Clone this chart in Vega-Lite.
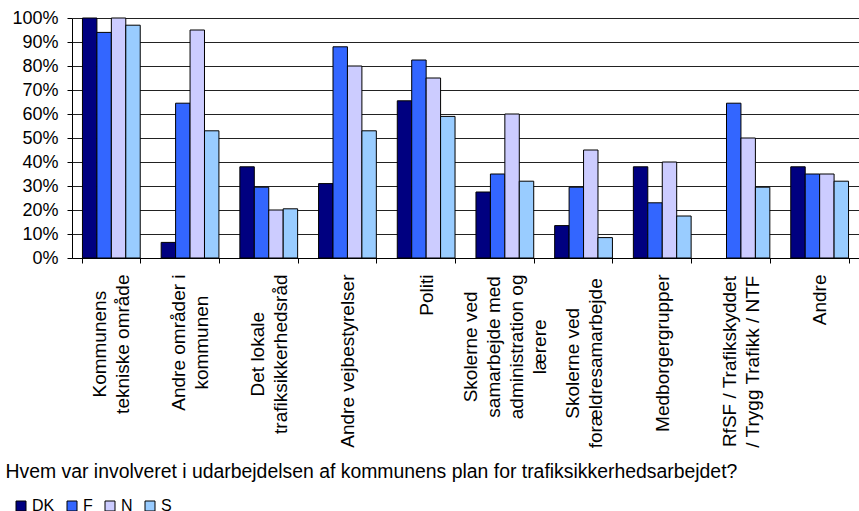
{
  "$schema": "https://vega.github.io/schema/vega-lite/v6.json",
  "autosize": {"type": "none"},
  "padding": {"left": 72, "top": 18, "right": 0, "bottom": 253},
  "width": 787,
  "height": 240,
  "background": "white",
  "config": {
    "view": {"stroke": null},
    "font": "Liberation Sans"
  },
  "data": {
    "values": [
      {"kategori": "Kommunens tekniske område", "land": "DK", "andel": 1.0},
      {"kategori": "Kommunens tekniske område", "land": "F", "andel": 0.94},
      {"kategori": "Kommunens tekniske område", "land": "N", "andel": 1.0},
      {"kategori": "Kommunens tekniske område", "land": "S", "andel": 0.97},
      {"kategori": "Andre områder i kommunen", "land": "DK", "andel": 0.065},
      {"kategori": "Andre områder i kommunen", "land": "F", "andel": 0.645},
      {"kategori": "Andre områder i kommunen", "land": "N", "andel": 0.95},
      {"kategori": "Andre områder i kommunen", "land": "S", "andel": 0.53},
      {"kategori": "Det lokale trafiksikkerhedsråd", "land": "DK", "andel": 0.38},
      {"kategori": "Det lokale trafiksikkerhedsråd", "land": "F", "andel": 0.295},
      {"kategori": "Det lokale trafiksikkerhedsråd", "land": "N", "andel": 0.2},
      {"kategori": "Det lokale trafiksikkerhedsråd", "land": "S", "andel": 0.205},
      {"kategori": "Andre vejbestyrelser", "land": "DK", "andel": 0.31},
      {"kategori": "Andre vejbestyrelser", "land": "F", "andel": 0.88},
      {"kategori": "Andre vejbestyrelser", "land": "N", "andel": 0.8},
      {"kategori": "Andre vejbestyrelser", "land": "S", "andel": 0.53},
      {"kategori": "Politi", "land": "DK", "andel": 0.655},
      {"kategori": "Politi", "land": "F", "andel": 0.825},
      {"kategori": "Politi", "land": "N", "andel": 0.75},
      {"kategori": "Politi", "land": "S", "andel": 0.59},
      {"kategori": "Skolerne ved samarbejde med administration og lærere", "land": "DK", "andel": 0.275},
      {"kategori": "Skolerne ved samarbejde med administration og lærere", "land": "F", "andel": 0.35},
      {"kategori": "Skolerne ved samarbejde med administration og lærere", "land": "N", "andel": 0.6},
      {"kategori": "Skolerne ved samarbejde med administration og lærere", "land": "S", "andel": 0.32},
      {"kategori": "Skolerne ved forældresamarbejde", "land": "DK", "andel": 0.135},
      {"kategori": "Skolerne ved forældresamarbejde", "land": "F", "andel": 0.295},
      {"kategori": "Skolerne ved forældresamarbejde", "land": "N", "andel": 0.45},
      {"kategori": "Skolerne ved forældresamarbejde", "land": "S", "andel": 0.085},
      {"kategori": "Medborgergrupper", "land": "DK", "andel": 0.38},
      {"kategori": "Medborgergrupper", "land": "F", "andel": 0.23},
      {"kategori": "Medborgergrupper", "land": "N", "andel": 0.4},
      {"kategori": "Medborgergrupper", "land": "S", "andel": 0.175},
      {"kategori": "RfSF / Trafikskyddet / Trygg Trafikk / NTF", "land": "F", "andel": 0.645},
      {"kategori": "RfSF / Trafikskyddet / Trygg Trafikk / NTF", "land": "N", "andel": 0.5},
      {"kategori": "RfSF / Trafikskyddet / Trygg Trafikk / NTF", "land": "S", "andel": 0.295},
      {"kategori": "Andre", "land": "DK", "andel": 0.38},
      {"kategori": "Andre", "land": "F", "andel": 0.35},
      {"kategori": "Andre", "land": "N", "andel": 0.35},
      {"kategori": "Andre", "land": "S", "andel": 0.32}
    ]
  },
  "mark": {"type": "bar", "stroke": "black", "strokeWidth": 1},
  "encoding": {
    "x": {
      "field": "kategori",
      "type": "nominal",
      "sort": null,
      "scale": {"paddingInner": 0.266, "paddingOuter": 0.133},
      "axis": {
        "title": "Hvem var involveret i udarbejdelsen af kommunens plan for trafiksikkerhedsarbejdet?",
        "titleFont": "Liberation Sans",
        "titleFontSize": 19.4,
        "titleFontWeight": "normal",
        "titleColor": "black",
        "titleAlign": "left",
        "titleAnchor": "start",
        "titleBaseline": "alphabetic",
        "titleX": -67,
        "titleY": 219,
        "labelAngle": -90,
        "labelAlign": "center",
        "labelBaseline": "middle",
        "labelFont": "Liberation Sans",
        "labelFontSize": 19,
        "labelLineHeight": 23,
        "labelColor": "black",
        "labelLimit": 0,
        "labelPadding": {
          "condition": [
            {"test": "datum.value == 'Kommunens tekniske område'", "value": 80.7},
            {"test": "datum.value == 'Andre områder i kommunen'", "value": 79.1},
            {"test": "datum.value == 'Det lokale trafiksikkerhedsråd'", "value": 90.7},
            {"test": "datum.value == 'Andre vejbestyrelser'", "value": 97.6},
            {"test": "datum.value == 'Politi'", "value": 31.6},
            {"test": "datum.value == 'Skolerne ved samarbejde med administration og lærere'", "value": 83.4},
            {"test": "datum.value == 'Skolerne ved forældresamarbejde'", "value": 99.8},
            {"test": "datum.value == 'Medborgergrupper'", "value": 89.7},
            {"test": "datum.value == 'RfSF / Trafikskyddet / Trygg Trafikk / NTF'", "value": 98.1}
          ],
          "value": 36.4
        },
        "labelOffset": {
          "condition": [
            {"test": "datum.value == 'Andre vejbestyrelser' || datum.value == 'Politi' || datum.value == 'Medborgergrupper' || datum.value == 'Andre'", "value": 0},
            {"test": "datum.value == 'Skolerne ved samarbejde med administration og lærere'", "value": -34.5}
          ],
          "value": -11.5
        },
        "labelExpr": "datum.value == 'Kommunens tekniske område' ? ['Kommunens', 'tekniske område'] : datum.value == 'Andre områder i kommunen' ? ['Andre områder i', 'kommunen'] : datum.value == 'Det lokale trafiksikkerhedsråd' ? ['Det lokale', 'trafiksikkerhedsråd'] : datum.value == 'Skolerne ved samarbejde med administration og lærere' ? ['Skolerne ved', 'samarbejde med', 'administration og', 'lærere'] : datum.value == 'Skolerne ved forældresamarbejde' ? ['Skolerne ved', 'forældresamarbejde'] : datum.value == 'RfSF / Trafikskyddet / Trygg Trafikk / NTF' ? ['RfSF / Trafikskyddet', '/ Trygg Trafikk / NTF'] : datum.value",
        "tickBand": "extent",
        "tickSize": 5,
        "tickColor": "black",
        "domainColor": "black",
        "grid": false
      }
    },
    "xOffset": {
      "field": "land",
      "type": "nominal",
      "sort": ["DK", "F", "N", "S"],
      "scale": {"paddingInner": 0, "paddingOuter": 0}
    },
    "y": {
      "field": "andel",
      "type": "quantitative",
      "scale": {"domain": [0, 1], "nice": false},
      "axis": {
        "title": null,
        "format": ".0%",
        "values": [0, 0.1, 0.2, 0.3, 0.4, 0.5, 0.6, 0.7, 0.8, 0.9, 1.0],
        "labelFont": "Liberation Sans",
        "labelFontSize": 18,
        "labelColor": "black",
        "labelPadding": 9,
        "tickSize": 5,
        "tickColor": "black",
        "domainColor": "black",
        "grid": true,
        "gridColor": "#222222",
        "gridWidth": 1,
        "gridOpacity": 1
      }
    },
    "color": {
      "field": "land",
      "type": "nominal",
      "scale": {
        "domain": ["DK", "F", "N", "S"],
        "range": ["#000080", "#3366FF", "#CCCCFF", "#99CCFF"]
      },
      "legend": {
        "title": null,
        "orient": "none",
        "legendX": -59,
        "legendY": 480,
        "direction": "horizontal",
        "gridAlign": "none",
        "symbolType": "square",
        "symbolSize": 100,
        "symbolStrokeColor": "black",
        "symbolStrokeWidth": 1,
        "symbolOpacity": 1,
        "labelFont": "Liberation Sans",
        "labelFontSize": 16,
        "labelColor": "black",
        "labelOffset": 3,
        "columnPadding": 9
      }
    }
  }
}
